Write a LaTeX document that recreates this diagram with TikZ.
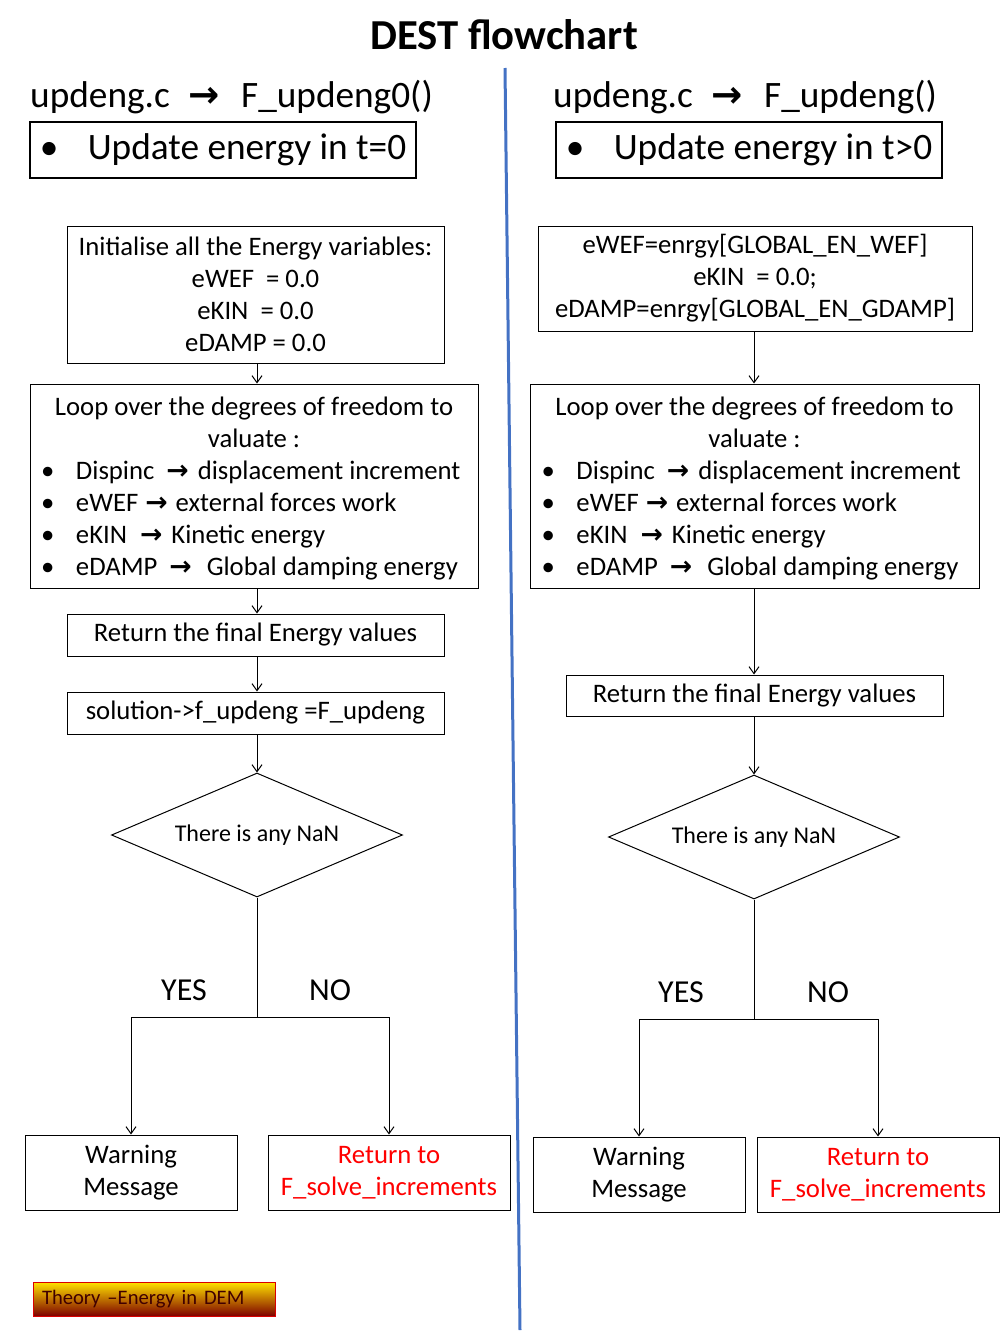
\documentclass[tikz,border=0pt]{standalone}
\usepackage{fontspec}
\setmainfont{Carlito}
\newfontfamily\arrowfont{DejaVu Sans}
\usetikzlibrary{arrows.meta, positioning, shapes.geometric}

\definecolor{divblue}{RGB}{68,114,196}
\definecolor{badgetop}{RGB}{255,226,0}
\definecolor{badgemid}{RGB}{255,70,0}
\definecolor{badgebot}{RGB}{125,0,0}

\newcommand{\goesto}{{\arrowfont\bfseries →}}
\newcommand{\bitem}[1]{\makebox[32pt][l]{\hspace{-3pt}•}#1}

\begin{document}
\begin{tikzpicture}[
      x=1pt, y=-1pt,
      >={Straight Barb[length=7pt,width=10pt]},
      body/.style={font=\fontsize{26.7}{32}\selectfont},
      block/.style={draw, line width=1pt, inner sep=0pt, align=center, body},
      headbox/.style={draw, line width=2.6pt, minimum width=386pt, minimum height=56pt, inner sep=0pt,
                      font=\fontsize{37.3}{44}\selectfont},
      heading/.style={anchor=west, inner sep=0pt, font=\fontsize{37.3}{44}\selectfont},
      decision/.style={draw, diamond, line width=1pt, aspect=2.35, inner sep=0pt,
                       minimum width=291pt, minimum height=124pt, font=\fontsize{24}{29}\selectfont},
      answer/.style={inner sep=0pt, font=\fontsize{32}{38}\selectfont},
      bus/.style={->, line width=1pt},
      wire/.style={line width=1pt}
    ]
    \useasboundingbox (0,0) rectangle (1008,1344);

    \node[font=\bfseries\fontsize{42.7}{50}\selectfont] (title) at (504,35) {DEST flowchart};

    % divider between t=0 and t>0
    \draw[divblue, line width=3pt] (505,68) -- (520,1330);

    % ---- left: t = 0
    \node[heading] (head0) at (30,97) {updeng.c\hspace{19pt}\goesto\hspace{21pt}F\_updeng0()};
    \node[headbox] (scope0) at (223,150) {\makebox[48pt][l]{•}Update energy in t=0};

    \node[block, minimum width=377pt, minimum height=137pt] (init0) at (255.5,294.5)
      {Initialise all the Energy variables:\\eWEF \ = 0.0\\eKIN \ = 0.0\\eDAMP = 0.0};
    \node[block, minimum width=448pt, minimum height=204pt] (loop0) at (254,486)
      {\rule{0pt}{28pt}Loop over the degrees of freedom to\\valuate :\\
       \makebox[420pt][l]{\begin{tabular}[t]{@{}l@{}}
         \bitem{Dispinc\hspace{12pt}\goesto\hspace{9pt}displacement increment}\\
         \bitem{eWEF\hspace{7pt}\goesto\hspace{8pt}external forces work}\\
         \bitem{eKIN\hspace{13pt}\goesto\hspace{9pt}Kinetic energy}\\
         \bitem{eDAMP\hspace{12pt}\goesto\hspace{15pt}Global damping energy}
       \end{tabular}}};
    \node[block, minimum width=377pt, minimum height=42pt] (ret0) at (255.5,635) {Return the final Energy values};
    \node[block, minimum width=377pt, minimum height=42pt] (sol0) at (255.5,713) {solution->f\_updeng =F\_updeng};
    \node[decision] (nan0) at (257,835) {There is any NaN};

    \node[block, minimum width=212pt, minimum height=75pt] (warn0) at (131,1172.5) {Warning\\Message};
    \node[block, minimum width=242pt, minimum height=75pt, text=red] (back0) at (389,1172.5) {Return to\\F\_solve\_increments};

    \node[answer] (yes0) at (184,990) {YES};
    \node[answer] (no0) at (330,990) {NO};

    \draw[bus] (init0.south -| nan0) -- (loop0.north -| nan0);
    \draw[bus] (loop0.south -| nan0) -- (ret0.north -| nan0);
    \draw[bus] (ret0.south -| nan0) -- (sol0.north -| nan0);
    \draw[bus] (sol0.south -| nan0) -- (nan0.north);
    \draw[wire] (nan0.south) -- ++(0,120) coordinate (fork0);
    \draw[bus] (fork0) -| (warn0.north);
    \draw[bus] (fork0) -| (back0.north);

    % ---- right: t > 0
    \node[heading] (head1) at (553,97) {updeng.c\hspace{19pt}\goesto\hspace{21pt}F\_updeng()};
    \node[headbox] (scope1) at (749,150) {\makebox[48pt][l]{•}Update energy in t>0};

    \node[block, minimum width=434pt, minimum height=105pt] (init1) at (755,278.5)
      {eWEF=enrgy[GLOBAL\_EN\_WEF]\\eKIN \ = 0.0;\\eDAMP=enrgy[GLOBAL\_EN\_GDAMP]};
    \node[block, minimum width=449pt, minimum height=204pt] (loop1) at (754.5,486)
      {\rule{0pt}{28pt}Loop over the degrees of freedom to\\valuate :\\
       \makebox[420pt][l]{\begin{tabular}[t]{@{}l@{}}
         \bitem{Dispinc\hspace{12pt}\goesto\hspace{9pt}displacement increment}\\
         \bitem{eWEF\hspace{7pt}\goesto\hspace{8pt}external forces work}\\
         \bitem{eKIN\hspace{13pt}\goesto\hspace{9pt}Kinetic energy}\\
         \bitem{eDAMP\hspace{12pt}\goesto\hspace{15pt}Global damping energy}
       \end{tabular}}};
    \node[block, minimum width=377pt, minimum height=41pt] (ret1) at (754.5,695.5) {Return the final Energy values};
    \node[decision] (nan1) at (754,837) {There is any NaN};

    \node[block, minimum width=212pt, minimum height=75pt] (warn1) at (639,1174.5) {Warning\\Message};
    \node[block, minimum width=242pt, minimum height=75pt, text=red] (back1) at (878,1174.5) {Return to\\F\_solve\_increments};

    \node[answer] (yes1) at (681,992) {YES};
    \node[answer] (no1) at (828,992) {NO};

    \draw[bus] (init1.south -| nan1) -- (loop1.north -| nan1);
    \draw[bus] (loop1.south -| nan1) -- (ret1.north -| nan1);
    \draw[bus] (ret1.south -| nan1) -- (nan1.north);
    \draw[wire] (nan1.south) -- ++(0,120) coordinate (fork1);
    \draw[bus] (fork1) -| (warn1.north);
    \draw[bus] (fork1) -| (back1.north);

    % footer tag
    \node[draw=red!85!black, line width=0.8pt, top color=badgetop, middle color=badgemid, bottom color=badgebot,
          minimum width=242pt, minimum height=34pt, inner xsep=9pt, text width=224pt, align=left,
          text=black!75!red, font=\fontsize{20.6}{24}\selectfont] (tag) at (154,1299) {Theory –Energy in DEM};
  \end{tikzpicture}
\end{document}
